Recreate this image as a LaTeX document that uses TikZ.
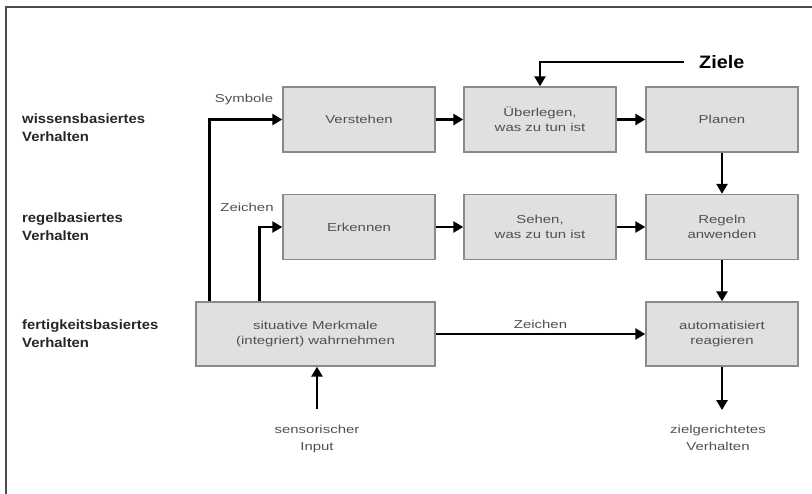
\documentclass[tikz,border=0pt]{standalone}
\usepackage{fontspec}
\setmainfont{Liberation Sans}
\newfontfamily\boxfont[FakeStretch=1.3]{Liberation Sans}
\newfontfamily\lblfont[FakeStretch=1.1]{Liberation Sans}
\usetikzlibrary{arrows.meta,positioning}
\definecolor{boxfill}{HTML}{E0E0E0}
\definecolor{boxline}{HTML}{8A8A8A}
\definecolor{txtgray}{HTML}{505050}
\tikzset{
  blk/.style={draw=boxline, fill=boxfill, line width=1.4pt, minimum width=152pt, minimum height=65pt,
    align=center, inner sep=0pt, text=txtgray, font=\boxfont\fontsize{11.5}{15}\selectfont},
  arr/.style={line width=2.6pt, -{Triangle[length=10pt,width=11pt]}},
  lvl/.style={anchor=west, align=left, inner sep=0pt, text=black!85, font=\lblfont\bfseries\fontsize{13.5}{18}\selectfont},
  small/.style={text=txtgray, inner sep=1pt, align=center, font=\boxfont\fontsize{11.5}{17}\selectfont}
}
\begin{document}
\begin{tikzpicture}[x=1pt,y=-1pt]
\useasboundingbox (0,0) rectangle (812,494);
\draw[line width=1.5pt, black!70] (6,494) -- (6,7) -- (812,7);
% boxes
\node[blk] (verstehen) at (359,119.5) {Verstehen};
\node[blk] (ueberlegen) at (540,119.5) {Überlegen,\\was zu tun ist};
\node[blk] (planen) at (722,119.5) {Planen};
\node[blk] (erkennen) at (359,227) {Erkennen};
\node[blk] (sehen) at (540,227) {Sehen,\\was zu tun ist};
\node[blk] (regeln) at (722,227) {Regeln\\anwenden};
\node[blk, minimum width=239pt, minimum height=64pt] (situativ) at (315.5,334) {situative Merkmale\\(integriert) wahrnehmen};
\node[blk, minimum height=64pt] (auto) at (722,334) {automatisiert\\reagieren};
% level labels
\node[lvl] (l1) at (22,128) {wissensbasiertes\\Verhalten};
\node[lvl] (l2) at (22,227) {regelbasiertes\\Verhalten};
\node[lvl] (l3) at (22,334) {fertigkeitsbasiertes\\Verhalten};
% other labels
\node[font=\lblfont\bfseries\fontsize{18}{20}\selectfont, inner sep=0pt, anchor=west] (ziele) at (699,62) {Ziele};
\node[small] (symbole) at (244,100) {Symbole};
\node[small] (zeichen1) at (247,207) {Zeichen};
\node[small] (sensor) at (317,439) {sensorischer\\Input};
\node[small] (ziel) at (718,438) {zielgerichtetes\\Verhalten};
% connectors
\draw[arr] ([xshift=14pt]situativ.north west) |- (verstehen.west);
\draw[arr] ([xshift=64pt]situativ.north west) |- (erkennen.west);
\draw[arr] (verstehen) -- (ueberlegen);
\draw[arr] (ueberlegen) -- (planen);
\draw[arr] (erkennen) -- (sehen);
\draw[arr] (sehen) -- (regeln);
\draw[arr] (planen) -- (regeln);
\draw[arr] (regeln) -- (auto);
\draw[arr] (situativ) -- node[small, above=3pt] (zeichen2) {Zeichen} (auto);
\draw[arr] ([xshift=-15pt]ziele.west) -| (ueberlegen.north);
\draw[arr] ([yshift=15pt]sensor.north) -- (sensor.north |- situativ.south);
\draw[arr] (auto.south) -- ([yshift=14pt]auto.south |- ziel.north);
\end{tikzpicture}
\end{document}
